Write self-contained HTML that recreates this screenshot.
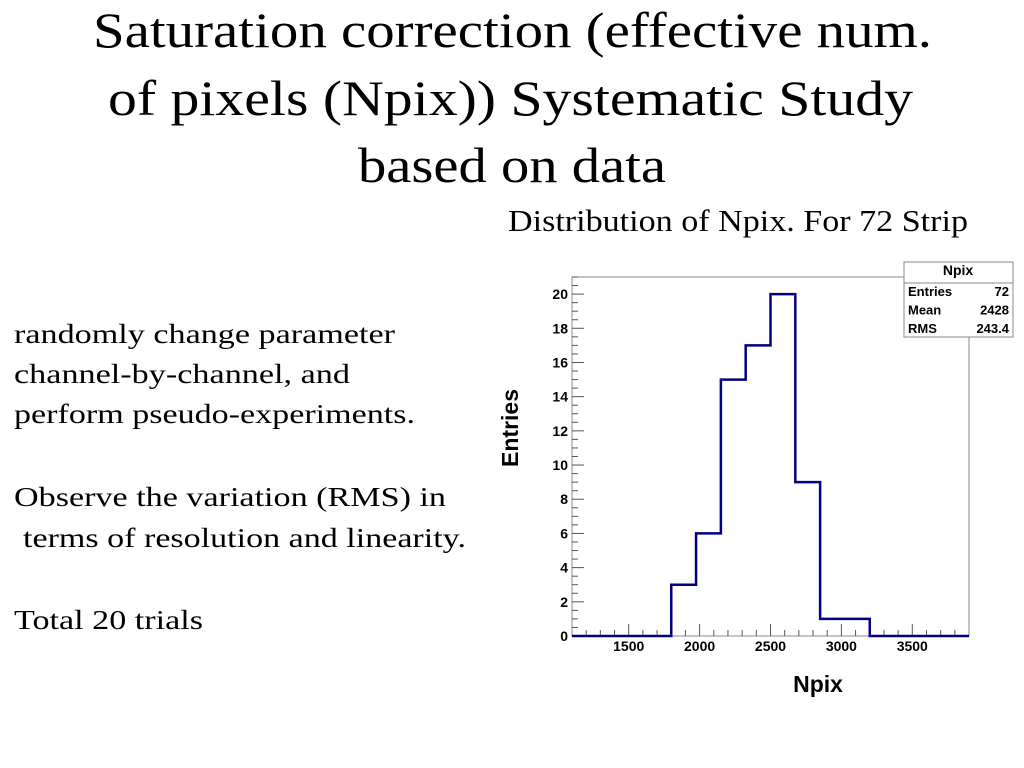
<!DOCTYPE html>
<html><head><meta charset="utf-8">
<style>
html,body{margin:0;padding:0;background:#fff;}
svg{display:block;}
.serif{font-family:"Liberation Serif",serif;fill:#000;}
.sans{font-family:"Liberation Sans",sans-serif;fill:#000;}
</style></head>
<body>
<svg id="slide" width="1024" height="768" viewBox="0 0 1024 768">
  <g>
    <text class="serif" x="93" y="47" font-size="50" textLength="839" lengthAdjust="spacingAndGlyphs">Saturation correction (effective num.</text>
    <text class="serif" x="108" y="115" font-size="50" textLength="805" lengthAdjust="spacingAndGlyphs">of pixels (Npix))  Systematic Study</text>
    <text class="serif" x="358" y="182" font-size="50" textLength="308" lengthAdjust="spacingAndGlyphs">based on data</text>
  </g>
  <text class="serif" x="508" y="231" font-size="31" textLength="460" lengthAdjust="spacingAndGlyphs">Distribution of Npix. For 72 Strip</text>
  <g>
    <text class="serif" x="14" y="343" font-size="27" textLength="381" lengthAdjust="spacingAndGlyphs">randomly change parameter</text>
    <text class="serif" x="14" y="383" font-size="27" textLength="336" lengthAdjust="spacingAndGlyphs">channel-by-channel, and</text>
    <text class="serif" x="14" y="423" font-size="27" textLength="401" lengthAdjust="spacingAndGlyphs">perform pseudo-experiments.</text>
    <text class="serif" x="14" y="506" font-size="27" textLength="432" lengthAdjust="spacingAndGlyphs">Observe the variation (RMS) in</text>
    <text class="serif" x="23" y="547" font-size="27" textLength="443" lengthAdjust="spacingAndGlyphs">terms of resolution and linearity.</text>
    <text class="serif" x="14" y="629" font-size="27" textLength="189" lengthAdjust="spacingAndGlyphs">Total 20 trials</text>
  </g>
  <g id="chart"></g>
</svg>
<script>
const binLow = 1100;
const binWidth = 175;
const binCounts = [0, 0, 0, 0, 3, 6, 15, 17, 20, 9, 1, 1, 0, 0, 0, 0];
const xTicks = [1500, 2000, 2500, 3000, 3500];
const yTicks = [0, 2, 4, 6, 8, 10, 12, 14, 16, 18, 20];
const statLabels = ["Entries", "Mean", "RMS"];
const statValues = ["72", "2428", "243.4"];

const NS = "http://www.w3.org/2000/svg";
const L = 572, R = 969, T = 277, B = 636;
const xMin = 1100, xMax = 3900, yMin = 0, yMax = 21;
const xs = v => L + (v - xMin) / (xMax - xMin) * (R - L);
const ys = v => B - (v - yMin) / (yMax - yMin) * (B - T);
const g = document.getElementById('chart');
function mk(tag, attrs, parent) {
  const e = document.createElementNS(NS, tag);
  for (const k in attrs) e.setAttribute(k, attrs[k]);
  (parent || g).appendChild(e);
  return e;
}
const frame = mk('rect', {x: L, y: T, width: R - L, height: B - T, fill: 'none', stroke: '#888', 'stroke-width': 1});



const yAxis = mk('g', {});


for (let v = 0; v <= yMax; v += 0.5) {
  const major = Math.abs(v % 2) < 1e-9;
  mk('line', {x1: L, x2: L + (major ? 12 : 6), y1: ys(v), y2: ys(v), stroke: '#555', 'stroke-width': 1}, yAxis);
}
yTicks.forEach(v => {
  const t = mk('text', {x: L - 4, y: ys(v) + 5, 'text-anchor': 'end', 'font-size': 14, 'font-weight': 'bold', class: 'sans'}, yAxis);
  t.textContent = v;
  
  
});
const xAxis = mk('g', {});


for (let v = 1200; v < xMax; v += 100) {
  const major = v % 500 === 0;
  mk('line', {x1: xs(v), x2: xs(v), y1: B, y2: B - (major ? 12 : 6), stroke: '#555', 'stroke-width': 1}, xAxis);
}
xTicks.forEach(v => {
  const t = mk('text', {x: xs(v), y: B + 15, 'text-anchor': 'middle', 'font-size': 14, 'font-weight': 'bold', class: 'sans'}, xAxis);
  t.textContent = v;
  
  
});
const xt = mk('text', {x: 818, y: 692, 'text-anchor': 'middle', 'font-size': 23, 'font-weight': 'bold', class: 'sans'});
xt.textContent = 'Npix';


const yt = mk('text', {x: 0, y: 0, 'text-anchor': 'middle', 'font-size': 23, 'font-weight': 'bold', class: 'sans', transform: 'translate(518,428) rotate(-90)'});
yt.textContent = 'Entries';



let d = '';
binCounts.forEach((c, i) => {
  const x0 = xs(binLow + i * binWidth), x1 = xs(binLow + (i + 1) * binWidth);
  d += (i === 0 ? 'M' : 'L') + x0 + ',' + ys(c) + ' L' + x1 + ',' + ys(c) + ' ';
});
const hist = mk('path', {d: d, fill: 'none', stroke: '#000080', 'stroke-width': 2.5});



const sb = mk('g', {});


mk('rect', {x: 904, y: 262, width: 109, height: 75, fill: '#fff', stroke: '#888', 'stroke-width': 1}, sb);
mk('line', {x1: 904, x2: 1013, y1: 283, y2: 283, stroke: '#888', 'stroke-width': 1}, sb);
const st = mk('text', {x: 958, y: 275, 'text-anchor': 'middle', 'font-size': 14, 'font-weight': 'bold', class: 'sans'}, sb);
st.textContent = 'Npix';
statLabels.forEach((lab, i) => {
  const y = 296 + i * 18.5;
  const a = mk('text', {x: 908, y: y, 'font-size': 13, 'font-weight': 'bold', class: 'sans'}, sb);
  a.textContent = lab;
  
  
  const b = mk('text', {x: 1009, y: y, 'text-anchor': 'end', 'font-size': 13, 'font-weight': 'bold', class: 'sans'}, sb);
  b.textContent = statValues[i];
  
  
});
</script>
</body></html>
